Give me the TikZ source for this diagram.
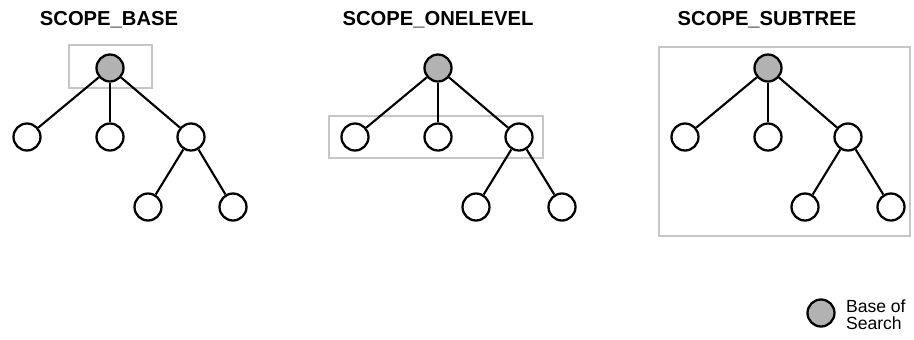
\documentclass[tikz,border=0pt]{standalone}
\usepackage{fontspec}
\setmainfont{Liberation Sans}
\definecolor{basegray}{HTML}{B2B2B2}
\definecolor{framegray}{HTML}{C6C6C6}
\tikzset{
  entry/.style={circle,draw,line width=1.3pt,fill=white,minimum size=0.54cm,inner sep=0pt},
  base/.style={entry,fill=basegray},
  scopebox/.style={draw=framegray,line width=1.3pt},
  title/.style={font=\bfseries\fontsize{11.5}{13}\selectfont},
}
\begin{document}
\begin{tikzpicture}[x=0.02cm,y=-0.02cm,line width=1.2pt]
      \useasboundingbox (0,0) rectangle (914,339);
      % titles
      \node[title] (tbase) at (109,20) {SCOPE\_BASE};
      \node[title] (tone) at (438,20) {SCOPE\_ONELEVEL};
      \node[title] (tsub) at (767,20) {SCOPE\_SUBTREE};
      % scope frames
      \draw[scopebox] (69,45) rectangle (152,88);
      \draw[scopebox] (329,116) rectangle (543,158);
      \draw[scopebox] (659,47) rectangle (910,236);
      % SCOPE_BASE
      \node[base] (b0) at (110,68) {};
      \node[entry] (b1) at (27,137) {};
      \node[entry] (b2) at (110,137) {};
      \node[entry] (b3) at (191,137) {};
      \node[entry] (b4) at (148,207) {};
      \node[entry] (b5) at (233,207) {};
      \draw (b0) -- (b1);
      \draw (b0) -- (b2);
      \draw (b0) -- (b3);
      \draw (b3) -- (b4);
      \draw (b3) -- (b5);
      % SCOPE_ONELEVEL
      \node[base] (o0) at (438,68) {};
      \node[entry] (o1) at (355,137) {};
      \node[entry] (o2) at (438,137) {};
      \node[entry] (o3) at (519,137) {};
      \node[entry] (o4) at (476,207) {};
      \node[entry] (o5) at (562,207) {};
      \draw (o0) -- (o1);
      \draw (o0) -- (o2);
      \draw (o0) -- (o3);
      \draw (o3) -- (o4);
      \draw (o3) -- (o5);
      % SCOPE_SUBTREE
      \node[base] (s0) at (768,68) {};
      \node[entry] (s1) at (685,137) {};
      \node[entry] (s2) at (768,137) {};
      \node[entry] (s3) at (848,137) {};
      \node[entry] (s4) at (805,207) {};
      \node[entry] (s5) at (891,207) {};
      \draw (s0) -- (s1);
      \draw (s0) -- (s2);
      \draw (s0) -- (s3);
      \draw (s3) -- (s4);
      \draw (s3) -- (s5);
      % legend
      \node[base] (key) at (821,313) {};
      \node[anchor=west,align=left,inner sep=0pt,font=\fontsize{10}{9.5}\selectfont] (keytext) at (845,315) {Base of\\Search};
\end{tikzpicture}
\end{document}
